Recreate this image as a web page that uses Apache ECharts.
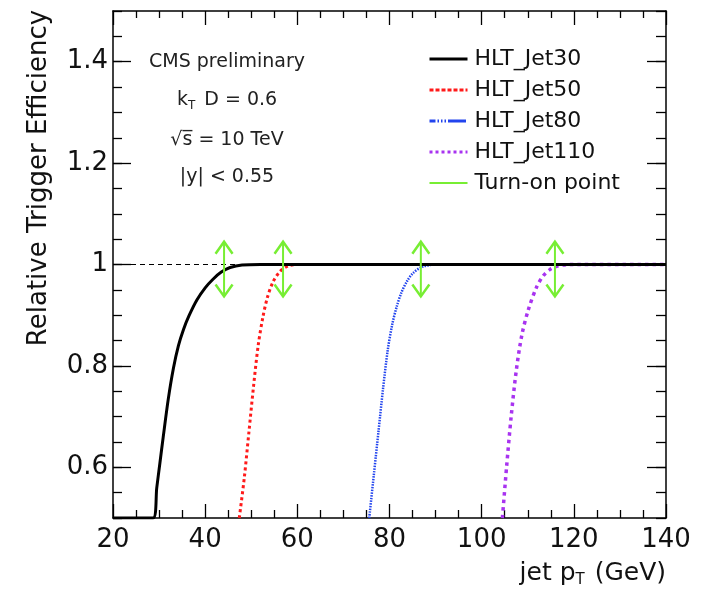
<!DOCTYPE html>
<html>
<head>
<meta charset="utf-8">
<script src="https://cdn.jsdelivr.net/npm/echarts@6/dist/echarts.min.js"></script>
<style>
html,body{margin:0;padding:0;background:#fff;}
#chart{width:706px;height:593px;}
</style>
</head>
<body>
<div id="chart"></div>
<script>
// ---- data ----
const seriesNames = ['HLT_Jet30', 'HLT_Jet50', 'HLT_Jet80', 'HLT_Jet110'];
const jet30X = [20, 28.7, 29.5, 30.2, 30.9, 32.0, 33.1, 34.2, 35.3, 36.5, 38.2, 40.0, 41.7, 43.5, 45.4, 48.0, 52.0, 140];
const jet30Y = [0.5, 0.5, 0.56, 0.61, 0.66, 0.735, 0.795, 0.84, 0.872, 0.899, 0.930, 0.954, 0.971, 0.985, 0.994, 0.999, 1.0, 1.0];
const jet50X = [47.4, 48.5, 49.5, 50.5, 51.5, 52.5, 53.5, 54.7, 56.2, 58.0, 60.0, 140];
const jet50Y = [0.5, 0.58, 0.67, 0.76, 0.84, 0.895, 0.935, 0.965, 0.986, 0.997, 1.0, 1.0];
const jet80X = [75.6, 76.6, 77.6, 78.6, 79.6, 80.6, 81.6, 82.6, 83.8, 85.1, 87.0, 90.0, 140];
const jet80Y = [0.5, 0.585, 0.67, 0.755, 0.83, 0.882, 0.918, 0.945, 0.967, 0.983, 0.995, 1.0, 1.0];
const jet110X = [104.5, 105.4, 106.4, 107.5, 108.7, 110.1, 111.9, 113.3, 114.8, 116.5, 119.0, 140];
const jet110Y = [0.5, 0.60, 0.70, 0.79, 0.86, 0.91, 0.955, 0.977, 0.990, 0.997, 1.0, 1.0];
const turnOnX = [44.1, 56.9, 86.8, 115.9];
const arrowLow = 0.937;
const arrowHigh = 1.045;
const refLevel = 1.0;
const xTicks = [20, 40, 60, 80, 100, 120, 140];
const yMajorTicks = [0.6, 0.8, 1.0, 1.2, 1.4];
const annotations = ['CMS preliminary', 'k{sub|T} D = 0.6', '√s̅ = 10 TeV', '|y| < 0.55'];

// ---- chart ----
const FONT = 'DejaVu Sans';
const zip = (xs, ys) => xs.map((x, i) => [x, ys[i]]);
const colors = ['#000000', '#ff1a1a', '#2244ee', '#a833f0'];
const green = '#77ee33';

const chart = echarts.init(document.getElementById('chart'), null, {renderer: 'canvas'});

const grid = {left: 113, right: 40, top: 11, bottom: 75};

const xBase = {
  type: 'value', min: xTicks[0], max: xTicks[xTicks.length - 1], interval: 20,
  splitLine: {show: false},
  axisLine: {show: true, lineStyle: {color: '#000', width: 1.5}}
};
const yBase = {
  type: 'value', min: 0.5, max: 1.5,
  splitLine: {show: false},
  axisLine: {show: true, lineStyle: {color: '#000', width: 1.5}}
};

const curveBase = {type: 'line', xAxisIndex: 0, yAxisIndex: 0, smooth: 0.3, symbol: 'none'};
const hiddenSymbol = {color: 'rgba(0,0,0,0)', borderColor: 'rgba(0,0,0,0)', borderWidth: 0, opacity: 0};

const option = {
  animation: false,
  backgroundColor: '#fff',
  textStyle: {fontFamily: FONT},
  grid: grid,
  xAxis: [
    Object.assign({}, xBase, {
      position: 'bottom',
      axisTick: {show: true, inside: true, length: 14, lineStyle: {color: '#000', width: 1.3}},
      minorTick: {show: true, splitNumber: 4, length: 8, lineStyle: {color: '#000', width: 1.3}},
      axisLabel: {show: true, color: '#111', fontFamily: FONT, fontSize: 26, margin: 9},
      name: 'jet p{sub|T} (GeV)',
      nameLocation: 'end',
      nameGap: 0,
      nameTextStyle: {
        fontFamily: FONT, fontSize: 25, color: '#111', align: 'right', verticalAlign: 'top',
        padding: [41, 0, 0, 0],
        rich: {sub: {fontFamily: FONT, fontSize: 15, color: '#111', padding: [14, 2, 0, 0]}}
      }
    }),
    Object.assign({}, xBase, {
      position: 'top',
      axisTick: {show: true, inside: true, length: 14, lineStyle: {color: '#000', width: 1.3}},
      minorTick: {show: true, splitNumber: 4, length: 7, lineStyle: {color: '#000', width: 1.3}},
      axisLabel: {show: false}
    })
  ],
  yAxis: [
    Object.assign({}, yBase, {
      position: 'left', interval: 0.05,
      axisTick: {show: true, inside: true, length: 9, lineStyle: {color: '#000', width: 1.3}},
      axisLabel: {show: false}
    }),
    Object.assign({}, yBase, {
      position: 'left', interval: 0.1,
      axisLine: {show: false},
      axisTick: {show: true, inside: true, length: 18, customValues: yMajorTicks, lineStyle: {color: '#000', width: 1.3}},
      axisLabel: {show: true, customValues: yMajorTicks, color: '#111', fontFamily: FONT, fontSize: 26, margin: 5}
    }),
    Object.assign({}, yBase, {
      position: 'right', interval: 0.05,
      axisTick: {show: true, inside: true, length: 10, lineStyle: {color: '#000', width: 1.3}},
      axisLabel: {show: false}
    }),
    Object.assign({}, yBase, {
      position: 'right', interval: 0.1,
      axisLine: {show: false},
      axisTick: {show: true, inside: true, length: 19, customValues: yMajorTicks, lineStyle: {color: '#000', width: 1.3}},
      axisLabel: {show: false}
    })
  ],
  legend: {
    orient: 'vertical',
    left: 428, top: 48, padding: 0,
    itemWidth: 38, itemHeight: 14, itemGap: 9,
    itemStyle: hiddenSymbol,
    textStyle: {fontFamily: FONT, fontSize: 22, color: '#111', lineHeight: 22, padding: [0, 0, 0, 2]},
    data: [
      {name: 'HLT_Jet30', itemStyle: hiddenSymbol, lineStyle: {color: colors[0], width: 3, type: 'solid'}},
      {name: 'HLT_Jet50', itemStyle: hiddenSymbol, lineStyle: {color: colors[1], width: 3, type: [4, 2]}},
      {name: 'HLT_Jet80', itemStyle: hiddenSymbol, lineStyle: {color: colors[2], width: 3, type: [6, 2, 1.5, 2, 1.5, 2, 1.5, 2, 12, 0]}},
      {name: 'HLT_Jet110', itemStyle: hiddenSymbol, lineStyle: {color: colors[3], width: 3, type: [3, 3]}},
      {name: 'Turn-on point', itemStyle: hiddenSymbol, lineStyle: {color: green, width: 2, type: 'solid'}}
    ]
  },
  graphic: [
    {
      type: 'text', rotation: Math.PI / 2, x: 26, y: 178,
      style: {text: 'Relative Trigger Efficiency', fontFamily: FONT, fontSize: 26, fill: '#111', align: 'center', verticalAlign: 'top'}
    }
  ].concat(annotations.map((t, i) => ({
    type: 'text', x: 227, y: [62, 100, 140, 177][i],
    style: {
      text: t, fontFamily: FONT, fontSize: 19, fill: '#222', align: 'center', verticalAlign: 'middle',
      rich: {sub: {fontFamily: FONT, fontSize: 12, fill: '#222', padding: [12, 3, 0, 0]}}
    }
  }))),
  series: [
    Object.assign({}, curveBase, {
      name: 'HLT_Jet30', data: zip(jet30X, jet30Y),
      lineStyle: {color: colors[0], width: 3}, itemStyle: {color: colors[0]}, z: 5,
      markLine: {
        silent: true, symbol: 'none', label: {show: false},
        lineStyle: {color: '#000', width: 1.2, type: [5, 4]},
        data: [{yAxis: refLevel}]
      }
    }),
    Object.assign({}, curveBase, {
      name: 'HLT_Jet50', data: zip(jet50X, jet50Y),
      lineStyle: {color: colors[1], width: 3, type: [3, 3]}, itemStyle: {color: colors[1]}, z: 4
    }),
    Object.assign({}, curveBase, {
      name: 'HLT_Jet80', data: zip(jet80X, jet80Y),
      lineStyle: {color: colors[2], width: 2.5, type: [1.5, 1.2]}, itemStyle: {color: colors[2]}, z: 3
    }),
    Object.assign({}, curveBase, {
      name: 'HLT_Jet110', data: zip(jet110X, jet110Y),
      lineStyle: {color: colors[3], width: 3.5, type: [3.5, 4]}, itemStyle: {color: colors[3]}, z: 3
    })
  ].concat(turnOnX.map(x => ({
    name: 'Turn-on point', type: 'line', xAxisIndex: 0, yAxisIndex: 0,
    data: [[x, arrowLow], [x, arrowHigh]], symbol: 'none',
    lineStyle: {color: green, width: 2}, itemStyle: {color: green}, z: 6
  }))).concat([{
    name: 'Turn-on point', type: 'custom', xAxisIndex: 0, yAxisIndex: 0, z: 6,
    data: turnOnX.map(x => [x, arrowLow, arrowHigh]),
    renderItem: function (params, api) {
      const x = api.value(0);
      const lo = api.coord([x, api.value(1)]);
      const hi = api.coord([x, api.value(2)]);
      const w = 8.5, h = 12;
      const st = {stroke: green, lineWidth: 2.5, fill: 'none'};
      return {
        type: 'group', children: [
          {type: 'polyline', shape: {points: [[hi[0] - w, hi[1] + h], [hi[0], hi[1]], [hi[0] + w, hi[1] + h]]}, style: st},
          {type: 'polyline', shape: {points: [[lo[0] - w, lo[1] - h], [lo[0], lo[1]], [lo[0] + w, lo[1] - h]]}, style: st}
        ]
      };
    }
  }])
};
chart.setOption(option);
</script>
</body>
</html>
